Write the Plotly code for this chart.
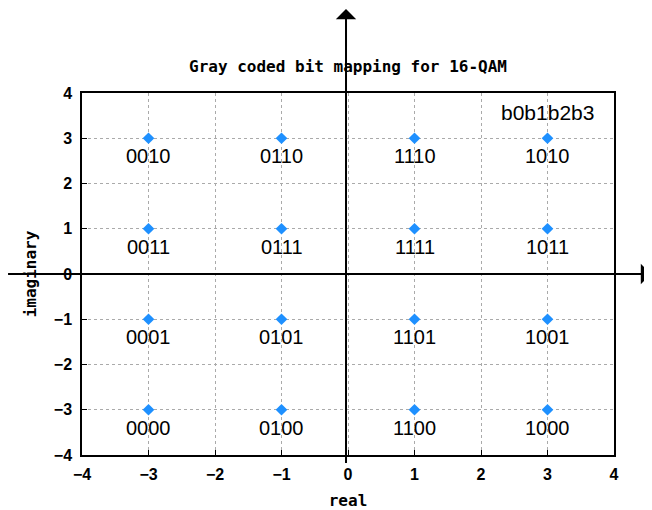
import plotly.graph_objects as go

real_vals = [-3, -1, 1, 3]
imag_vals = [3, 1, -1, -3]
bit_labels = [
    ["0010", "0110", "1110", "1010"],
    ["0011", "0111", "1111", "1011"],
    ["0001", "0101", "1101", "1001"],
    ["0000", "0100", "1100", "1000"],
]
tick_vals = [-4, -3, -2, -1, 0, 1, 2, 3, 4]

xs, ys, ts = [], [], []
for i, yv in enumerate(imag_vals):
    for j, xv in enumerate(real_vals):
        xs.append(xv)
        ys.append(yv)
        ts.append(bit_labels[i][j])

fig = go.Figure()
fig.add_trace(go.Scatter(
    x=xs, y=ys, mode="markers",
    marker=dict(symbol="diamond", size=9, color="#1E90FF"),
    cliponaxis=False, showlegend=False, hoverinfo="skip",
))
for xv, yv, t in zip(xs, ys, ts):
    fig.add_annotation(xref="x", yref="y", x=xv, y=yv, text=t, showarrow=False,
                       yshift=-18, font=dict(family="Liberation Sans", size=20, color="black"))

mono = "DejaVu Sans Mono"
tickfont = dict(family="Liberation Sans", size=16, color="black", weight="bold")
axis_common = dict(
    tickvals=tick_vals, ticks="inside", ticklen=5, tickcolor="black",
    showgrid=True, gridcolor="#aaaaaa", griddash="dot", gridwidth=1,
    zeroline=False, showline=True, linecolor="black", linewidth=1.5,
    mirror=True, tickfont=tickfont, automargin=False,
)
fig.update_xaxes(range=[-4, 4], ticklabelstandoff=4,
                 title=dict(text="real", font=dict(family=mono, size=16, color="black", weight="bold"), standoff=18),
                 **axis_common)
fig.update_yaxes(range=[-4, 4], ticklabelstandoff=5,
                 title=dict(text="imaginary", font=dict(family=mono, size=16, color="black", weight="bold"), standoff=13),
                 **axis_common)

# axis lines with arrows through origin
fig.add_shape(type="line", xref="x", yref="paper", x0=-0.03, x1=-0.03, y0=-0.022, y1=1.2,
              line=dict(color="black", width=2))
fig.add_shape(type="line", xref="paper", yref="y", x0=-0.139, x1=1.05, y0=0, y1=0,
              line=dict(color="black", width=2))
fig.add_annotation(xref="x", yref="paper", x=-0.03, y=1.236, ax=0, ay=40, axref="pixel", ayref="pixel",
                   text="", showarrow=True, arrowhead=1, arrowsize=1.7, arrowwidth=2, arrowcolor="black")
fig.add_annotation(xref="paper", yref="y", x=1.082, y=0, ax=-40, ay=0,
                   text="", showarrow=True, arrowhead=1, arrowsize=1.7, arrowwidth=2, arrowcolor="black")

fig.add_annotation(xref="x", yref="y", x=3, y=3.57, text="b0b1b2b3", showarrow=False,
                   font=dict(family="Liberation Sans", size=21, color="black"))

fig.update_layout(
    width=644, height=502,
    margin=dict(l=74, r=38, t=85, b=55),
    paper_bgcolor="white", plot_bgcolor="white",
    title=dict(text="Gray coded bit mapping for 16-QAM", x=0.5, xref="paper", xanchor="center",
               y=0.8845, yanchor="middle",
               font=dict(family=mono, size=16, color="black", weight="bold")),
)

fig.write_html("out.html")
